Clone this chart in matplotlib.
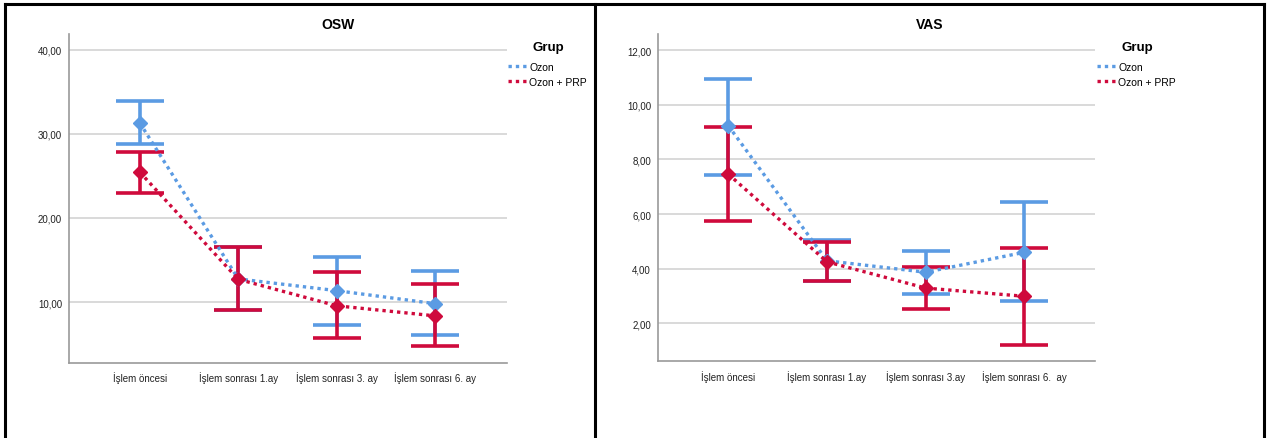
import matplotlib
matplotlib.use("Agg")
import matplotlib.pyplot as plt
from matplotlib.lines import Line2D
import numpy as np

plt.rcParams['font.family'] = ['Liberation Sans', 'DejaVu Sans']

groups = ["Ozon", "Ozon + PRP"]
colors = ["#5b9be3", "#cf0a3c"]

# OSW panel
osw_labels = ["İşlem öncesi", "İşlem sonrası 1.ay", "İşlem sonrası 3. ay", "İşlem sonrası 6. ay"]
osw_ozon_mean = [31.3, 12.75, 11.35, 9.8]
osw_ozon_low = [28.8, 9.0, 7.3, 6.1]
osw_ozon_high = [33.9, 16.55, 15.4, 13.7]
osw_prp_mean = [25.45, 12.7, 9.55, 8.35]
osw_prp_low = [23.0, 9.05, 5.7, 4.75]
osw_prp_high = [27.9, 16.6, 13.6, 12.1]
osw_yticks = [10, 20, 30, 40]

# VAS panel
vas_labels = ["İşlem öncesi", "İşlem sonrası 1.ay", "İşlem sonrası 3.ay", "İşlem sonrası 6.  ay"]
vas_ozon_mean = [9.23, 4.29, 3.87, 4.6]
vas_ozon_low = [7.44, 3.56, 3.07, 2.81]
vas_ozon_high = [10.96, 5.05, 4.65, 6.43]
vas_prp_mean = [7.46, 4.25, 3.29, 2.99]
vas_prp_low = [5.73, 3.56, 2.52, 1.21]
vas_prp_high = [9.19, 4.98, 4.05, 4.76]
vas_yticks = [2, 4, 6, 8, 10, 12]

W, H = 1277, 439
fig = plt.figure(figsize=(W / 100, H / 100), dpi=100)


def fx(px):
    return px / W


def fy(py):
    return 1 - py / H


def panel(rect, labels, series, yticks, ylim, xlim, title, title_x, leg_x, grup_x):
    ax = fig.add_axes(rect)
    x = np.arange(len(labels))
    for (mean, low, high), c, name in zip(series, colors, groups):
        mean = np.array(mean)
        yerr = np.vstack([mean - np.array(low), np.array(high) - mean])
        ax.errorbar(x, mean, yerr=yerr, fmt='none', ecolor=c, elinewidth=2.6,
                    capsize=17, capthick=2.6, zorder=3)
        ax.plot(x, mean, linestyle=(0, (1, 1.2)), lw=2.4, color=c, zorder=4,
                marker='D', markersize=7.5, label=name)
    ax.set_xlim(*xlim)
    ax.set_ylim(*ylim)
    ax.set_xticks(x)
    ax.set_xticklabels(labels, fontsize=7)
    ax.set_yticks(yticks)
    ax.set_yticklabels([f"{v:.2f}".replace('.', ',') for v in yticks], fontsize=7)
    ax.tick_params(length=0, pad=5, colors='#222222')
    ax.tick_params(axis='x', pad=6)
    ax.grid(axis='y', color='#cfcfcf', lw=1.1)
    ax.set_axisbelow(True)
    for s in ['top', 'right']:
        ax.spines[s].set_visible(False)
    for s in ['left', 'bottom']:
        ax.spines[s].set_color('#9a9a9a')
        ax.spines[s].set_linewidth(1.2)
    fig.text(fx(title_x), fy(25), title, ha='center', va='center',
             fontsize=10, fontweight='bold')
    fig.text(fx(grup_x), fy(48), "Grup", ha='center', va='center',
             fontsize=9.5, fontweight='bold')
    handles = [Line2D([0], [0], color=c, lw=2.4, linestyle=(0, (1, 1.2))) for c in colors]
    fig.legend(handles, groups, loc='upper left',
               bbox_to_anchor=(fx(leg_x), fy(63)), frameon=False,
               fontsize=7.5, handlelength=1.9, handletextpad=0.15,
               labelspacing=0.45, borderaxespad=0, borderpad=0)
    return ax


panel([fx(69), fy(364), fx(507) - fx(69), fy(35) - fy(364)], osw_labels,
      [(osw_ozon_mean, osw_ozon_low, osw_ozon_high), (osw_prp_mean, osw_prp_low, osw_prp_high)],
      osw_yticks, (2.74, 41.9), (-0.72, 3.73), "OSW", 338, 508, 548)

panel([fx(658), fy(362.3), fx(1095) - fx(658), fy(35) - fy(362.3)], vas_labels,
      [(vas_ozon_mean, vas_ozon_low, vas_ozon_high), (vas_prp_mean, vas_prp_low, vas_prp_high)],
      vas_yticks, (0.61, 12.59), (-0.713, 3.716), "VAS", 930, 1097, 1137)

# panel borders
bl = dict(color='black', lw=2.2, transform=fig.transFigure)
fig.add_artist(Line2D([fx(5), fx(5)], [fy(5), 0], **bl))
fig.add_artist(Line2D([fx(5), fx(1264)], [fy(5), fy(5)], **bl))
fig.add_artist(Line2D([fx(595), fx(595)], [fy(5), 0], **bl))
fig.add_artist(Line2D([fx(1264), fx(1264)], [fy(5), 0], **bl))

fig.savefig("out.png", dpi=100)
